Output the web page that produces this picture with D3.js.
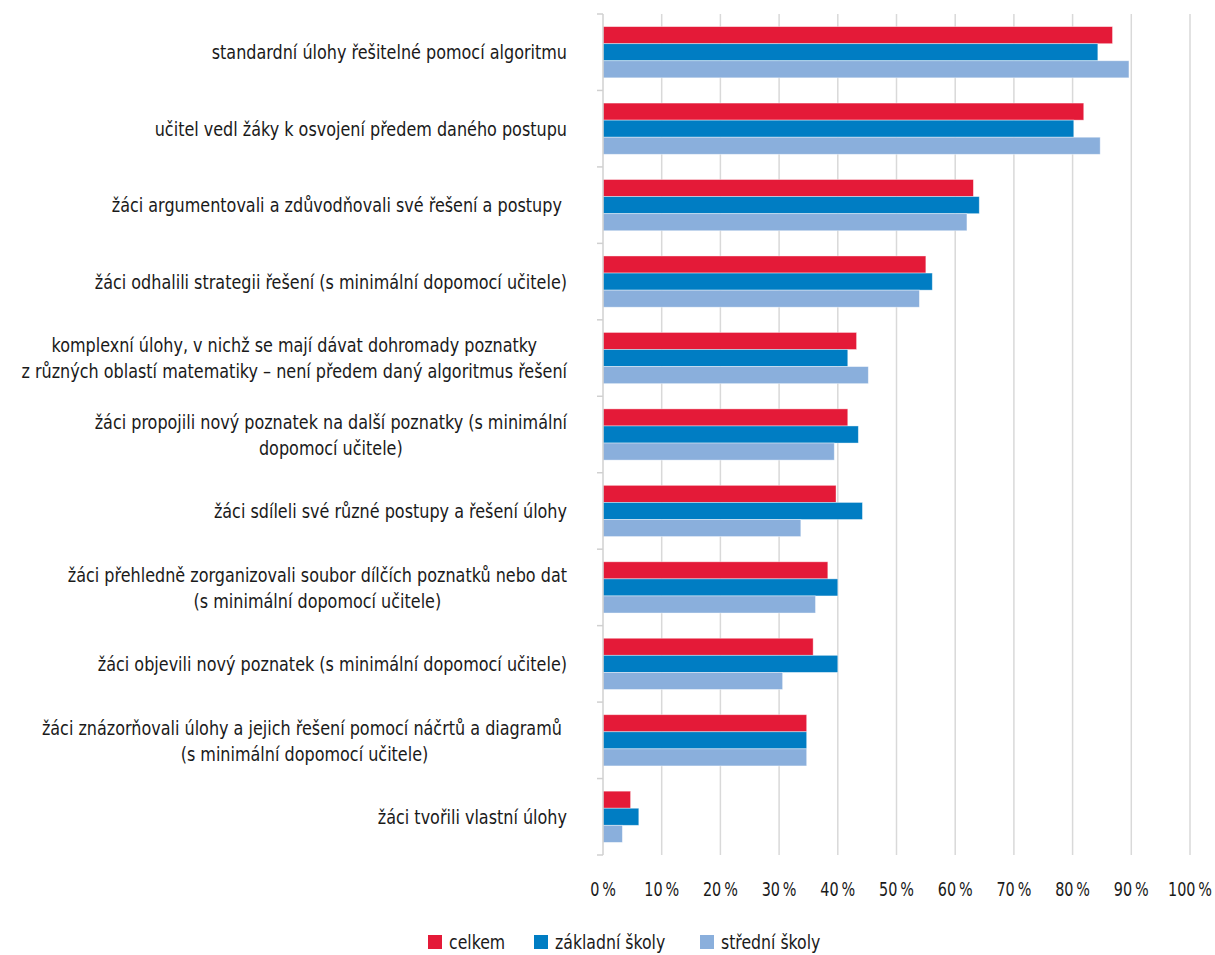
<!DOCTYPE html>
<html>
<head>
<meta charset="utf-8">
<script src="https://cdn.jsdelivr.net/npm/d3@7"></script>
<style>
  body { margin: 0; background: #fff; }
  svg text { font-family: "DejaVu Sans Condensed", "DejaVu Sans", sans-serif; font-stretch: condensed; fill: #1a1a1a; white-space: pre; }
</style>
</head>
<body>
<svg id="chart" width="1215" height="955"></svg>
<script>
// categories (top to bottom), each an array of lines
const categories = [
  ["standardní úlohy řešitelné pomocí algoritmu"],
  ["učitel vedl žáky k osvojení předem daného postupu"],
  ["žáci argumentovali a zdůvodňovali své řešení a postupy "],
  ["žáci odhalili strategii řešení (s minimální dopomocí učitele)"],
  ["komplexní úlohy, v nichž se mají dávat dohromady poznatky",
   "z různých oblastí matematiky – není předem daný algoritmus řešení"],
  ["žáci propojili nový poznatek na další poznatky (s minimální",
   "dopomocí učitele)"],
  ["žáci sdíleli své různé postupy a řešení úlohy"],
  ["žáci přehledně zorganizovali soubor dílčích poznatků nebo dat",
   "(s minimální dopomocí učitele)"],
  ["žáci objevili nový poznatek (s minimální dopomocí učitele)"],
  ["žáci znázorňovali úlohy a jejich řešení pomocí náčrtů a diagramů ",
   "(s minimální dopomocí učitele)"],
  ["žáci tvořili vlastní úlohy"]
];

const seriesNames = ["celkem", "základní školy", "střední školy"];
const seriesColors = ["#e41a38", "#007dc3", "#8aafdc"];

const celkem   = [86.8, 81.9, 63.1, 55.0, 43.2, 41.7, 39.7, 38.3, 35.8, 34.7, 4.7];
const zakladni = [84.3, 80.2, 64.1, 56.1, 41.7, 43.5, 44.2, 40.0, 40.0, 34.7, 6.1];
const stredni  = [89.6, 84.7, 62.0, 53.9, 45.2, 39.4, 33.7, 36.2, 30.6, 34.7, 3.3];

const xTicks = [0, 10, 20, 30, 40, 50, 60, 70, 80, 90, 100];

const svg = d3.select("#chart");
const plotLeft = 603, plotRight = 1190, plotTop = 14, plotBottom = 855;

const x = d3.scaleLinear().domain([0, 100]).range([plotLeft, plotRight]);
const y = d3.scaleBand().domain(d3.range(categories.length)).range([plotTop, plotBottom]).paddingInner(0.33).paddingOuter(0.165);
const ySub = d3.scaleBand().domain(d3.range(3)).range([0, y.bandwidth()]);

// squeeze text horizontally to mimic the narrow original font
const squeeze = (sel, factor) => {
  sel.each(function () {
    const len = this.getComputedTextLength();
    d3.select(this)
      .attr("textLength", len * factor)
      .attr("lengthAdjust", "spacingAndGlyphs");
  });
};

const rows = categories.map((c, i) => ({
  i, vals: [celkem[i], zakladni[i], stredni[i]]
}));

// gridlines
svg.append("g")
  .selectAll("line")
  .data(xTicks.slice(1))
  .enter()
  .append("line")
  .attr("x1", (d) => x(d)).attr("x2", (d) => x(d))
  .attr("y1", plotTop).attr("y2", plotBottom)
  .attr("stroke", "#d9d9d9")
  .attr("stroke-width", 1.5);

// bars
const group = svg.append("g")
  .selectAll("g")
  .data(rows)
  .enter()
  .append("g")
  .attr("transform", (d) => "translate(0," + y(d.i) + ")");

group.selectAll("rect")
  .data((d) => d.vals.map((v, k) => ({ v, k })))
  .enter()
  .append("rect")
  .attr("x", x(0))
  .attr("y", (d) => ySub(d.k))
  .attr("width", (d) => x(d.v) - x(0))
  .attr("height", ySub.bandwidth())
  .attr("fill", (d) => seriesColors[d.k])
  .attr("stroke", "#ffffff")
  .attr("stroke-opacity", 0.5)
  .attr("stroke-width", 0.8);

// left axis with category boundary ticks
const step = (plotBottom - plotTop) / categories.length;
const axisG = svg.append("g");
axisG.append("line")
  .attr("x1", plotLeft).attr("x2", plotLeft)
  .attr("y1", plotTop).attr("y2", plotBottom)
  .attr("stroke", "#d0d0d0").attr("stroke-width", 1.5);
axisG.selectAll(".tk")
  .data(d3.range(categories.length + 1))
  .enter()
  .append("line")
  .attr("x1", plotLeft - 6).attr("x2", plotLeft)
  .attr("y1", (d) => plotTop + d * step).attr("y2", (d) => plotTop + d * step)
  .attr("stroke", "#d0d0d0").attr("stroke-width", 1.5);

// category labels: lines centred on each other, block right-aligned
const labelRight = 567;
const lineH = 26;
const labelG = svg.append("g");
rows.forEach((d) => {
  const lines = categories[d.i];
  const cy = plotTop + (d.i + 0.5) * step;
  const texts = labelG.selectAll(null)
    .data(lines)
    .enter()
    .append("text")
    .attr("font-size", 20)
    .attr("text-anchor", "middle")
    .attr("y", (ln, j) => cy + (j - (lines.length - 1) / 2) * lineH)
    .attr("dy", "0.36em")
    .text((ln) => ln);
  squeeze(texts, 0.89);
  const maxW = d3.max(texts.nodes(), (n) => +n.getAttribute("textLength"));
  texts.attr("x", labelRight - maxW / 2);
});

// x tick labels
const tickTexts = svg.append("g")
  .selectAll("text")
  .data(xTicks)
  .enter()
  .append("text")
  .attr("x", (d) => x(d))
  .attr("y", 896)
  .attr("text-anchor", "middle")
  .attr("font-size", 20)
  .text((d) => d + "\u2009%");
squeeze(tickTexts, 0.8);

// legend
const legendX = [428, 534, 700];
const legend = svg.append("g")
  .selectAll("g")
  .data(seriesNames)
  .enter()
  .append("g")
  .attr("transform", (d, i) => "translate(" + legendX[i] + ",935)");
legend.append("rect")
  .attr("width", 14).attr("height", 14)
  .attr("fill", (d, i) => seriesColors[i]);
const legendTexts = legend.append("text")
  .attr("x", 21).attr("y", 14)
  .attr("font-size", 19)
  .text((d) => d);
squeeze(legendTexts, 0.92);
</script>
</body>
</html>
